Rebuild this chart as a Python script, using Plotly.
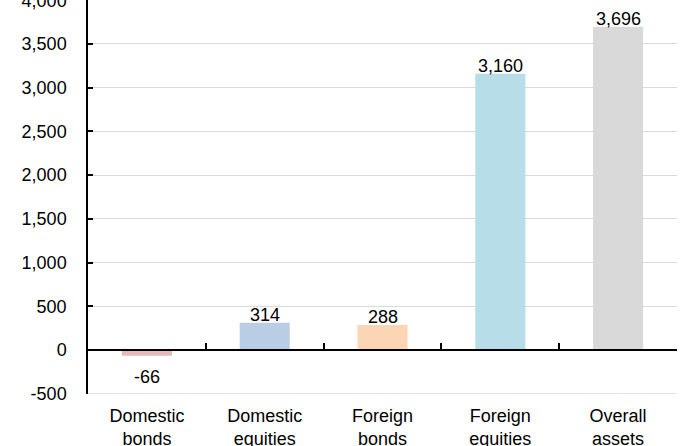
import plotly.graph_objects as go

# Categories, values and bar colours
categories = ["Domestic<br>bonds", "Domestic<br>equities", "Foreign<br>bonds",
              "Foreign<br>equities", "Overall<br>assets"]
values = [-66, 314, 288, 3160, 3696]
colors = ["#E6B9B8", "#B9CDE5", "#FCD5B5", "#B7DEE8", "#D9D9D9"]
y_ticks = [-500, 0, 500, 1000, 1500, 2000, 2500, 3000, 3500, 4000]
y_range = [-502, 4003]

FONT = "Liberation Sans, Arial, sans-serif"
FS = 18
GRID = "#D9D9D9"

fig = go.Figure()
fig.add_trace(go.Bar(
    x=list(range(len(categories))), y=values,
    marker=dict(color=colors, line=dict(width=0)),
    width=0.425,
    hoverinfo="skip", showlegend=False,
))
# invisible trace so the category-boundary axis at y=0 is drawn
fig.add_trace(go.Scatter(x=[0], y=[0], xaxis="x2", mode="markers",
                         marker=dict(opacity=0), hoverinfo="skip",
                         showlegend=False))

# value labels: above positive bars, below negative ones
for i, v in enumerate(values):
    fig.add_annotation(
        x=i, y=v, text=f"{v:,}", showarrow=False,
        yanchor="bottom" if v >= 0 else "top",
        yshift=-4 if v >= 0 else -9,
        font=dict(family=FONT, size=FS, color="#000000"),
    )

# bottom gridline (the edge gridline is not drawn by the axis itself)
fig.add_shape(type="line", xref="paper", yref="y", x0=0, x1=1,
              y0=y_ticks[0], y1=y_ticks[0], layer="below",
              line=dict(color=GRID, width=1))

zero_pos = (0 - y_range[0]) / (y_range[1] - y_range[0])

fig.update_layout(
    width=681, height=446,
    margin=dict(l=88, r=4, t=0, b=52, autoexpand=False),
    paper_bgcolor="white", plot_bgcolor="white",
    font=dict(family=FONT, size=FS, color="#000000"),
    xaxis=dict(
        range=[-0.5, 4.5], automargin=False,
        tickmode="array", tickvals=list(range(len(categories))),
        ticktext=categories, ticks="", showline=False, showgrid=False,
        zeroline=False, ticklabelstandoff=9,
        tickfont=dict(family=FONT, size=FS, color="#000000"),
    ),
    xaxis2=dict(
        overlaying="x", anchor="free", position=zero_pos,
        range=[-0.5, 4.5], automargin=False,
        tickmode="array", tickvals=[0.5, 1.5, 2.5, 3.5, 4.5],
        ticks="inside", ticklen=6, tickwidth=1.5, tickcolor="#000000",
        showline=True, linecolor="#000000", linewidth=1.5,
        showticklabels=False, showgrid=False, zeroline=False,
    ),
    yaxis=dict(
        range=y_range, automargin=False,
        tickmode="array", tickvals=y_ticks,
        ticktext=[f"{v:,}" for v in y_ticks],
        ticks="inside", ticklen=5, tickwidth=1.5,
        tickcolor="#000000", showline=True, linecolor="#000000",
        linewidth=1.5, showgrid=True, gridcolor=GRID, gridwidth=1,
        zeroline=False, ticklabelstandoff=16, ticklabeloverflow="allow",
        tickfont=dict(family=FONT, size=FS, color="#000000"),
    ),
)

fig.write_html("out.html")
